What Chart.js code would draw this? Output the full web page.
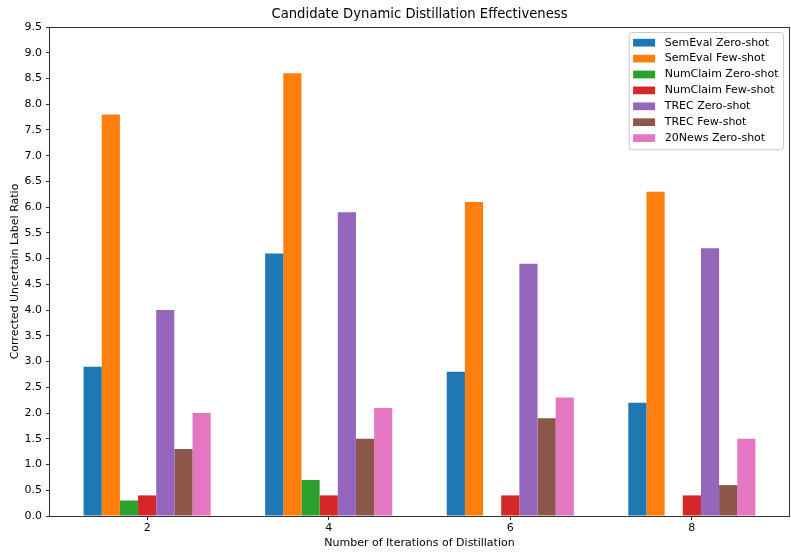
<!DOCTYPE html>
<html>
<head>
<meta charset="utf-8">
<script src="https://cdn.jsdelivr.net/npm/chart.js@4"></script>
<style>
  html, body { margin: 0; padding: 0; background: #ffffff; }
  #wrap { width: 791px; height: 554px; }
</style>
</head>
<body>
<div id="wrap"><canvas id="chart" width="791" height="554"></canvas></div>
<script>
// Iteration counts on the x axis
const iterations = [2, 4, 6, 8];

// Corrected uncertain label ratio per iteration, one array per setting
const semevalZero  = [2.9, 5.1, 2.8, 2.2];
const semevalFew   = [7.8, 8.6, 6.1, 6.3];
const numclaimZero = [0.3, 0.7, null, null];
const numclaimFew  = [0.4, 0.4, 0.4, 0.4];
const trecZero     = [4.0, 5.9, 4.9, 5.2];
const trecFew      = [1.3, 1.5, 1.9, 0.6];
const newsZero     = [2.0, 2.1, 2.3, 1.5];

const seriesNames = [
  'SemEval Zero-shot', 'SemEval Few-shot', 'NumClaim Zero-shot',
  'NumClaim Few-shot', 'TREC Zero-shot', 'TREC Few-shot', '20News Zero-shot'
];
const seriesValues = [semevalZero, semevalFew, numclaimZero, numclaimFew, trecZero, trecFew, newsZero];
const seriesColors = ['#1f77b4', '#ff7f0e', '#2ca02c', '#d62728', '#9467bd', '#8c564b', '#e377c2'];

const yTicks = [0, 0.5, 1, 1.5, 2, 2.5, 3, 3.5, 4, 4.5, 5, 5.5, 6, 6.5, 7, 7.5, 8, 8.5, 9, 9.5];

const chartTitle = 'Candidate Dynamic Distillation Effectiveness';

const FONT = 'DejaVu Sans';

const datasets = seriesNames.map((name, k) => ({
  label: name,
  data: iterations.map((it, i) => ({ x: it, y: seriesValues[k][i] })),
  backgroundColor: seriesColors[k],
  borderWidth: 0,
  categoryPercentage: 0.7,
  barPercentage: 1.0
}));

// Title centred over the plot, frame on all four sides, boxed legend upper right
const framePlugin = {
  id: 'frameAndLegend',
  afterDraw(chart) {
    const { ctx, chartArea: a } = chart;
    ctx.save();

    ctx.font = '13.2px "' + FONT + '"';
    ctx.fillStyle = '#000000';
    ctx.textAlign = 'center';
    ctx.textBaseline = 'middle';
    ctx.fillText(chartTitle, (a.left + a.right) / 2, a.top - 12);

    ctx.strokeStyle = '#333333';
    ctx.lineWidth = 1;
    ctx.strokeRect(Math.round(a.left) - 0.5, Math.round(a.top) + 0.5,
                   Math.round(a.right - a.left) + 1, Math.round(a.bottom - a.top));

    // legend
    ctx.font = '11px "' + FONT + '"';
    let maxW = 0;
    seriesNames.forEach(n => { maxW = Math.max(maxW, ctx.measureText(n).width); });
    const swW = 22, swH = 7.7, pad = 4.4, gap = 9.6, rowH = 15.9;
    const boxW = pad + swW + gap + maxW + pad;
    const boxH = seriesNames.length * rowH + 6;
    const bx = a.right - 6 - boxW;
    const by = a.top + 5;
    ctx.beginPath();
    if (ctx.roundRect) ctx.roundRect(bx + 0.5, by + 0.5, boxW, boxH, 3);
    else ctx.rect(bx + 0.5, by + 0.5, boxW, boxH);
    ctx.fillStyle = 'rgba(255,255,255,0.8)';
    ctx.fill();
    ctx.strokeStyle = '#cccccc';
    ctx.lineWidth = 1;
    ctx.stroke();
    ctx.textBaseline = 'middle';
    ctx.textAlign = 'left';
    seriesNames.forEach((n, i) => {
      const cy = by + 10.7 + i * rowH;
      ctx.fillStyle = seriesColors[i];
      ctx.fillRect(bx + pad, cy - swH / 2, swW, swH);
      ctx.fillStyle = '#000000';
      ctx.fillText(n, bx + pad + swW + gap, cy);
    });
    ctx.restore();
  }
};

new Chart(document.getElementById('chart'), {
  type: 'bar',
  data: { datasets },
  options: {
    responsive: false,
    animation: false,
    devicePixelRatio: 1,
    layout: { padding: { left: 0, right: 2, top: 27, bottom: 0 } },
    plugins: {
      legend: { display: false },
      tooltip: { enabled: false },
      title: { display: false }
    },
    scales: {
      x: {
        type: 'linear',
        offset: false,
        min: 0.93,
        max: 9.07,
        afterBuildTicks(scale) { scale.ticks = iterations.map(v => ({ value: v })); },
        afterFit(scale) { scale.height = 38; },
        grid: { display: true, drawOnChartArea: false, drawTicks: true, tickLength: 4, color: '#333333', offset: false },
        border: { display: false },
        ticks: {
          color: '#000000',
          padding: 1.4,
          maxRotation: 0,
          autoSkip: false,
          font: { family: FONT, size: 11 },
          callback: v => String(v)
        },
        title: {
          display: true,
          text: 'Number of Iterations of Distillation',
          color: '#000000',
          font: { family: FONT, size: 11, lineHeight: 1.2 },
          padding: { top: 0, bottom: 4.4 }
        }
      },
      y: {
        min: 0,
        max: 9.5,
        afterBuildTicks(scale) { scale.ticks = yTicks.map(v => ({ value: v })); },
        afterFit(scale) { scale.width = 50; },
        grid: { display: true, drawOnChartArea: false, drawTicks: true, tickLength: 4, color: '#333333' },
        border: { display: false },
        ticks: {
          color: '#000000',
          padding: 4,
          autoSkip: false,
          font: { family: FONT, size: 11 },
          callback: v => Number(v).toFixed(1)
        },
        title: {
          display: true,
          text: 'Corrected Uncertain Label Ratio',
          color: '#000000',
          font: { family: FONT, size: 11, lineHeight: 1.2 },
          padding: { top: 8.4, bottom: 0 }
        }
      }
    }
  },
  plugins: [framePlugin]
});
</script>
</body>
</html>
